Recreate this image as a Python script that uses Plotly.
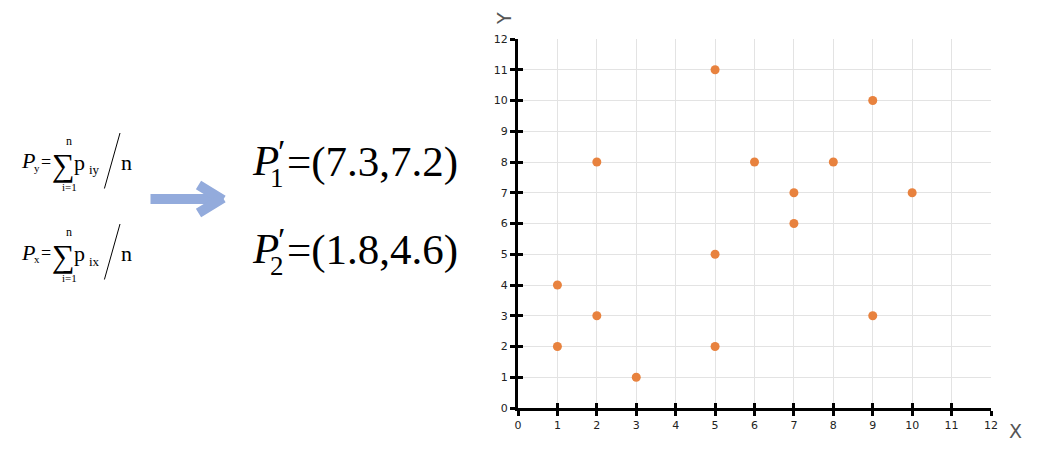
import plotly.graph_objects as go

# ---- data ----
x_vals = [1, 1, 2, 2, 3, 5, 5, 5, 6, 7, 7, 8, 9, 9, 10]
y_vals = [2, 4, 3, 8, 1, 2, 5, 11, 8, 6, 7, 8, 3, 10, 7]
tick_vals = list(range(0, 13))
centroid_1 = "(7.3,7.2)"
centroid_2 = "(1.8,4.6)"

W, H = 1052, 460
OFF = 8  # page body margin of the exported html
def px(x): return (x - OFF) / W
def py(y): return 1 - (y - OFF) / H

SERIF = "Liberation Serif, Times New Roman, serif"
SANS = "DejaVu Sans, Verdana, sans-serif"

fig = go.Figure()
fig.add_trace(go.Scatter(x=x_vals, y=y_vals, mode="markers",
                         marker=dict(size=9, color="#e8823e"),
                         hoverinfo="skip", showlegend=False))
# helper trace so the overlay axes (inner tick halves) are drawn
fig.add_trace(go.Scatter(x=[None], y=[None], xaxis="x2", yaxis="y2",
                         mode="markers", showlegend=False, hoverinfo="skip"))

xdom = [px(518), px(991)]
ydom = [py(408), py(39)]

axis_common = dict(range=[0, 12], tickmode="array", tickvals=tick_vals,
                   showgrid=True, gridcolor="#e3e3e3", gridwidth=1,
                   showline=True, linecolor="black", linewidth=3,
                   ticks="outside", ticklen=5, tickwidth=3, tickcolor="black",
                   zeroline=False, fixedrange=True, automargin=False,
                   tickfont=dict(family=SANS, size=11, color="#222"))
overlay_common = dict(range=[0, 12], tickmode="array", tickvals=tick_vals,
                      showgrid=False, showline=False, zeroline=False,
                      ticks="inside", ticklen=5, tickwidth=3, tickcolor="black",
                      showticklabels=False, fixedrange=True, automargin=False)

fig.update_layout(
    template="none",
    width=W, height=H,
    margin=dict(l=0, r=0, t=0, b=0, pad=0, autoexpand=False),
    paper_bgcolor="white", plot_bgcolor="white",
    xaxis=dict(domain=xdom, anchor="y", **axis_common),
    yaxis=dict(domain=ydom, anchor="x", **axis_common),
    xaxis2=dict(overlaying="x", anchor="y2", **overlay_common),
    yaxis2=dict(overlaying="y", anchor="x2", **overlay_common),
)

ann = []
def T(text, x, y, size, family=SERIF, xanchor="center", yanchor="middle",
      color="black", angle=0):
    ann.append(dict(text=text, x=px(x), y=py(y), xref="paper", yref="paper",
                    showarrow=False, xanchor=xanchor, yanchor=yanchor,
                    textangle=angle, borderpad=0,
                    font=dict(family=family, size=size, color=color)))

def L(x0, y0, x1, y1, width, color):
    ann.append(dict(text="", x=px(x1), y=py(y1), ax=x0 - x1, ay=y0 - y1,
                    xref="paper", yref="paper",
                    showarrow=True, arrowhead=0, arrowwidth=width,
                    arrowcolor=color, standoff=0, startstandoff=0))

# axis titles
T("X", 1015, 431, 19, family=SANS, color="#555")
T("Y", 504, 19, 19, family=SANS, color="#555", angle=-90)

# small formulas
for dy, sub in [(0, "y"), (91, "x")]:
    T("<i>P</i>", 28, 161 + dy, 22)
    T(sub, 37, 168 + dy, 11)
    T("=", 46, 162 + dy, 18)
    T("∑", 63, 165 + dy, 32)
    T("n", 69, 141 + dy, 12)
    T("i=1", 69, 187 + dy, 11)
    T("p", 79, 162 + dy, 22)
    T("i" + sub, 94, 170 + dy, 13)
    T("n", 126, 162 + dy, 22)
    L(104, 190 + dy, 120, 133 + dy, 1, "black")

# arrow (shaft + two arms)
ARROW = "#93abdc"
L(149, 199, 219, 199, 10, ARROW)
L(197, 184, 223, 200, 10, ARROW)
L(197, 214, 223, 198, 10, ARROW)

# big formulas
for dy, idx, val in [(0, "1", centroid_1), (88, "2", centroid_2)]:
    T("<i>P</i>", 265, 160 + dy, 43)
    T("′", 281, 151 + dy, 34)
    T(idx, 277, 178 + dy, 27)
    T("=" + val, 286, 162 + dy, 43, xanchor="left")

fig.update_layout(annotations=ann)
fig.write_html("out.html")
